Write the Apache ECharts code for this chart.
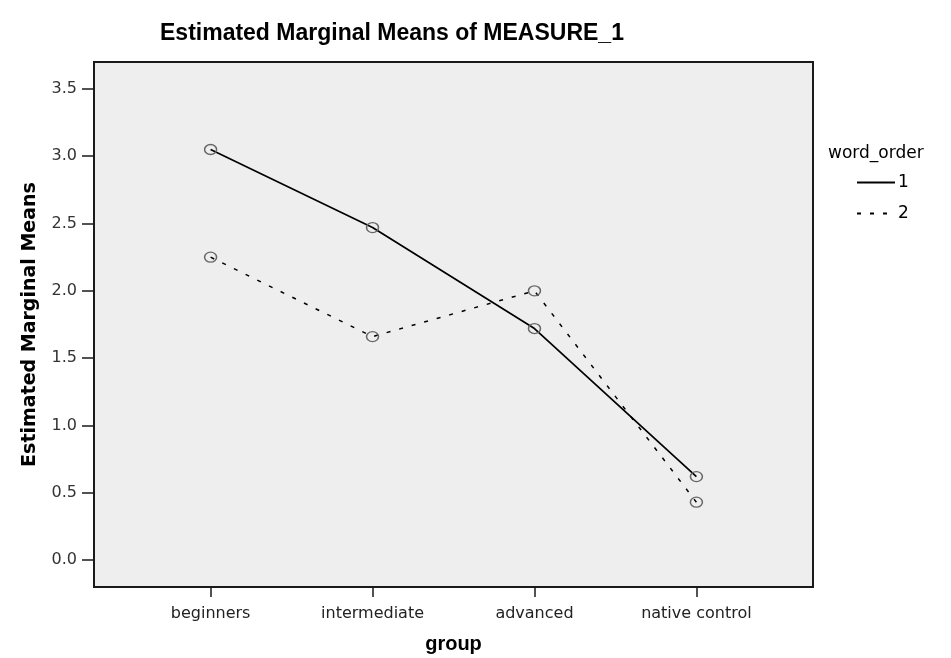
<!DOCTYPE html>
<html>
<head>
<meta charset="utf-8">
<script src="https://cdn.jsdelivr.net/npm/echarts@6/dist/echarts.min.js"></script>
<style>
html,body{margin:0;padding:0;background:#fff;}
#chart{width:951px;height:658px;}
</style>
</head>
<body>
<div id="chart"></div>
<script>
const categories = ['beginners', 'intermediate', 'advanced', 'native control'];
const wordOrder1 = [3.05, 2.47, 1.72, 0.62];
const wordOrder2 = [2.25, 1.66, 2.00, 0.43];
const yTicks = [0.0, 0.5, 1.0, 1.5, 2.0, 2.5, 3.0, 3.5];
const seriesNames = ['1', '2'];

const xPos = categories.map((c, i) => i + 1);
const toPoints = arr => arr.map((v, i) => [xPos[i], v]);

const chart = echarts.init(document.getElementById('chart'));
const markerStyle = { color: 'rgba(0,0,0,0)', borderColor: '#666666', borderWidth: 1.4 };

chart.setOption({
  animation: false,
  backgroundColor: '#ffffff',
  title: [
    {
      text: 'Estimated Marginal Means of MEASURE_1',
      left: 155, top: 17,
      textStyle: { fontFamily: 'Liberation Sans', fontWeight: 'bold', fontSize: 23, color: '#000' }
    },
    {
      text: 'word_order',
      left: 823, top: 140,
      textStyle: { fontFamily: 'DejaVu Sans', fontWeight: 'normal', fontSize: 17, color: '#000' }
    }
  ],
  legend: {
    orient: 'vertical',
    left: 851, top: 169,
    itemWidth: 38, itemHeight: 14, itemGap: 14,
    itemStyle: { opacity: 0 },
    textStyle: { fontFamily: 'DejaVu Sans', fontSize: 17, color: '#000', padding: [0, 0, 0, -2] },
    data: seriesNames
  },
  grid: {
    left: 94, right: 138, top: 62, bottom: 71,
    containLabel: false, outerBoundsMode: 'none',
    show: true, backgroundColor: '#eeeeee', borderColor: '#1a1a1a', borderWidth: 2
  },
  xAxis: {
    type: 'value', min: 0.28, max: 4.72,
    name: 'group', nameLocation: 'middle', nameGap: 47,
    nameTextStyle: { fontFamily: 'Liberation Sans', fontWeight: 'bold', fontSize: 20, color: '#000' },
    axisLine: { show: true, onZero: false, lineStyle: { color: '#1a1a1a', width: 2 } },
    axisTick: { show: true, length: 10, customValues: xPos, lineStyle: { color: '#1a1a1a', width: 1.5 } },
    axisLabel: {
      customValues: xPos, margin: 19,
      fontFamily: 'DejaVu Sans', fontSize: 16, color: '#222',
      formatter: v => categories[Math.round(v) - 1] || ''
    },
    splitLine: { show: false }
  },
  yAxis: {
    type: 'value', min: -0.2, max: 3.7,
    name: 'Estimated Marginal Means', nameLocation: 'middle', nameGap: 54, nameRotate: 90,
    nameTextStyle: { fontFamily: 'DejaVu Sans', fontWeight: 'bold', fontSize: 19, color: '#000' },
    axisLine: { show: true, onZero: false, lineStyle: { color: '#1a1a1a', width: 2 } },
    axisTick: { show: true, length: 12, customValues: yTicks, lineStyle: { color: '#1a1a1a', width: 1.5 } },
    axisLabel: {
      customValues: yTicks, margin: 17,
      fontFamily: 'DejaVu Sans', fontSize: 16, color: '#333',
      formatter: v => v.toFixed(1)
    },
    splitLine: { show: false }
  },
  series: [
    {
      name: seriesNames[0], type: 'line', data: toPoints(wordOrder1),
      symbol: 'circle', symbolSize: [12, 10],
      itemStyle: markerStyle,
      lineStyle: { color: '#000', width: 1.7, type: 'solid' },
      z: 3
    },
    {
      name: seriesNames[1], type: 'line', data: toPoints(wordOrder2),
      symbol: 'circle', symbolSize: [12, 10],
      itemStyle: markerStyle,
      lineStyle: { color: '#000', width: 1.5, type: [4, 9] },
      z: 2
    }
  ]
});
</script>
</body>
</html>
